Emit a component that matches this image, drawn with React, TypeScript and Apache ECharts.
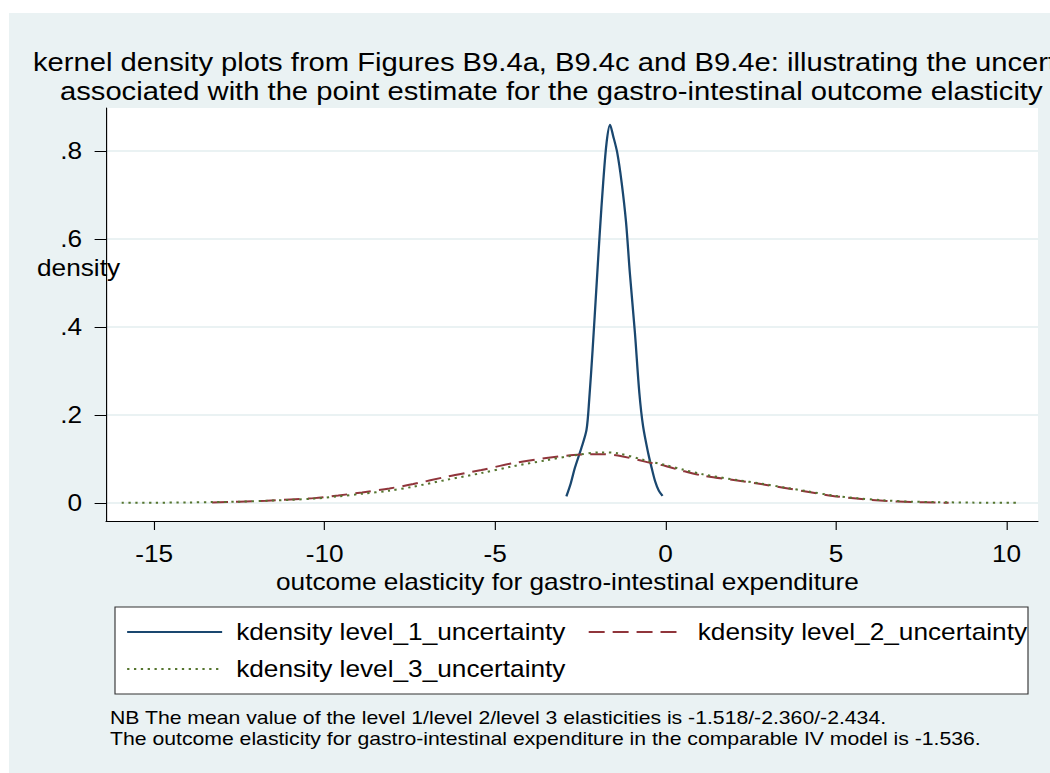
import React, { useEffect, useRef } from "react";
import * as echarts from "echarts";

// The reference picture is stretched horizontally; the chart is drawn at a
// narrower width and stretched by the same factor.
const SX = 1.14;
const W = 1050;
const H = 773;
const CW = W / SX;
const FONT = "'Liberation Sans', Arial, Helvetica, sans-serif";

const titleLines = [
  "kernel density plots from Figures B9.4a, B9.4c and B9.4e: illustrating the uncertainty",
  "associated with the point estimate for the gastro-intestinal outcome elasticity",
];
const xAxisTitle = "outcome elasticity for gastro-intestinal expenditure";
const yAxisTitle = "density";
const noteLines = [
  "NB The mean value of the level 1/level 2/level 3 elasticities is -1.518/-2.360/-2.434.",
  "The outcome elasticity for gastro-intestinal expenditure in the comparable IV model is -1.536.",
];
const legendNames = [
  "kdensity level_1_uncertainty",
  "kdensity level_2_uncertainty",
  "kdensity level_3_uncertainty",
];

const xTicks = [-15, -10, -5, 0, 5, 10];
const xTickLabels = ["-15", "-10", "-5", "0", "5", "10"];
const yTicks = [0, 0.2, 0.4, 0.6, 0.8];
const yTickLabels = ["0", ".2", ".4", ".6", ".8"];

const level1X = [-2.91, -2.78, -2.66, -2.47, -2.32, -2.24, -2.14, -2.02, -1.93, -1.83, -1.73, -1.63, -1.54, -1.42, -1.29, -1.16, -1.05, -0.9, -0.77, -0.66, -0.51, -0.41, -0.31, -0.2, -0.09];
const level1Y = [0.015, 0.045, 0.08, 0.125, 0.166, 0.235, 0.349, 0.501, 0.615, 0.729, 0.82, 0.86, 0.835, 0.797, 0.729, 0.638, 0.524, 0.387, 0.25, 0.174, 0.113, 0.08, 0.05, 0.028, 0.016];

const level2X = [-13.3, -12.5, -11.7, -11.0, -10.3, -9.6, -8.9, -8.1, -7.4, -6.4, -5.4, -4.5, -3.5, -2.7, -1.9, -1.4, -0.6, 0.0, 0.5, 1.1, 2.1, 2.8, 3.5, 4.2, 4.9, 5.6, 6.4, 7.2, 7.9, 8.3];
const level2Y = [0.001, 0.003, 0.005, 0.008, 0.011, 0.017, 0.024, 0.033, 0.043, 0.06, 0.075, 0.09, 0.102, 0.109, 0.111, 0.108, 0.094, 0.084, 0.073, 0.062, 0.051, 0.043, 0.034, 0.025, 0.016, 0.01, 0.005, 0.002, 0.001, 0.0005];

const level3X = [-15.95, -15.0, -14.0, -13.3, -12.5, -11.7, -11.0, -10.3, -9.6, -8.9, -8.1, -7.4, -6.4, -5.4, -4.5, -3.5, -2.7, -1.9, -1.4, -0.6, 0.0, 0.5, 1.1, 2.1, 2.8, 3.5, 4.2, 4.9, 5.6, 6.4, 7.2, 7.9, 9.0, 10.35];
const level3Y = [0.0003, 0.0006, 0.0012, 0.002, 0.003, 0.005, 0.007, 0.01, 0.015, 0.021, 0.028, 0.037, 0.053, 0.068, 0.083, 0.097, 0.108, 0.115, 0.113, 0.097, 0.086, 0.076, 0.065, 0.052, 0.044, 0.035, 0.026, 0.017, 0.011, 0.006, 0.003, 0.002, 0.0008, 0.0003];

const toPairs = (xs: number[], ys: number[]) => xs.map((x, i) => [x, ys[i]]);

export default function App() {
  const ref = useRef<HTMLDivElement>(null);

  useEffect(() => {
    if (!ref.current) return;
    const chart = echarts.init(ref.current, null, { renderer: "svg" });
    const gridLeft = 106 / SX;
    const gridRight = 1038 / SX;
    const legendCommon = {
      left: 126 / SX,
      padding: 0,
      itemGap: 19.3,
      itemWidth: 95 / SX,
      itemHeight: 17,
      itemStyle: { opacity: 0, borderWidth: 0 },
      textStyle: { fontSize: 23, color: "#000", fontFamily: FONT, padding: [0, 0, 0, 7.3] },
    };
    const option: any = {
      animation: false,
      backgroundColor: "transparent",
      textStyle: { fontFamily: FONT, color: "#000" },
      grid: {
        left: gridLeft,
        top: 108,
        width: gridRight - gridLeft,
        height: 413,
        show: true,
        backgroundColor: "#ffffff",
        borderWidth: 0,
        containLabel: false,
        outerBoundsMode: "none",
      },
      xAxis: {
        type: "value",
        min: -16.41,
        max: 10.92,
        axisLine: { show: true, onZero: false, lineStyle: { color: "#000", width: 1 } },
        axisTick: { show: true, customValues: xTicks, length: 9, lineStyle: { color: "#000", width: 1 } },
        axisLabel: {
          customValues: xTicks,
          margin: 22,
          fontSize: 23,
          color: "#000",
          fontFamily: FONT,
          formatter: (v: number) => {
            const i = xTicks.indexOf(v);
            return i >= 0 ? xTickLabels[i] : String(v);
          },
        },
        splitLine: { show: false },
        name: xAxisTitle,
        nameLocation: "middle",
        nameGap: 44,
        nameTextStyle: { fontSize: 23, color: "#000", fontFamily: FONT, padding: [0, 8, 0, 0] },
      },
      yAxis: {
        type: "value",
        min: -0.041,
        max: 0.898,
        axisLine: { show: true, onZero: false, lineStyle: { color: "#000", width: 1 } },
        axisTick: { show: true, customValues: yTicks, length: 10, lineStyle: { color: "#000", width: 1 } },
        axisLabel: {
          customValues: yTicks,
          margin: 21,
          fontSize: 23,
          color: "#000",
          fontFamily: FONT,
          formatter: (v: number) => {
            const i = yTicks.indexOf(v);
            return i >= 0 ? yTickLabels[i] : String(v);
          },
        },
        splitLine: { show: true, lineStyle: { color: "#eaf2f3", width: 2 } },
      },
      legend: [
        { ...legendCommon, top: 620.5, data: [legendNames[0], legendNames[1]] },
        { ...legendCommon, top: 657.5, data: [legendNames[2]] },
      ],
      series: [
        {
          name: legendNames[0],
          type: "line",
          data: toPairs(level1X, level1Y),
          symbol: "none",
          smooth: 0.3,
          lineStyle: { color: "#1a476f", width: 2 },
          itemStyle: { color: "#1a476f" },
        },
        {
          name: legendNames[1],
          type: "line",
          data: toPairs(level2X, level2Y),
          symbol: "none",
          smooth: 0.3,
          lineStyle: { color: "#90353b", width: 2, type: [14, 7] },
          itemStyle: { color: "#90353b" },
        },
        {
          name: legendNames[2],
          type: "line",
          data: toPairs(level3X, level3Y),
          symbol: "none",
          smooth: 0.3,
          lineStyle: { color: "#55752f", width: 2, type: [2, 4] },
          itemStyle: { color: "#55752f" },
        },
      ],
      graphic: [
        {
          type: "rect",
          shape: { x: 115 / SX, y: 607, width: (1028 - 115) / SX, height: 87 },
          style: { fill: "#ffffff", stroke: "#333333", lineWidth: 1 },
          z: 1,
        },
        {
          type: "text",
          x: 33 / SX,
          y: 62,
          style: { text: titleLines[0], fontSize: 25.6, fontFamily: FONT, fill: "#000", textAlign: "left", textVerticalAlign: "middle" },
        },
        {
          type: "text",
          x: 60 / SX,
          y: 91,
          style: { text: titleLines[1], fontSize: 25.6, fontFamily: FONT, fill: "#000", textAlign: "left", textVerticalAlign: "middle" },
        },
        {
          type: "text",
          x: 37 / SX,
          y: 268,
          z: 10,
          style: { text: yAxisTitle, fontSize: 23, fontFamily: FONT, fill: "#000", textAlign: "left", textVerticalAlign: "middle" },
        },
        {
          type: "text",
          x: 110 / SX,
          y: 717,
          style: { text: noteLines[0], fontSize: 18.6, fontFamily: FONT, fill: "#000", textAlign: "left", textVerticalAlign: "middle" },
        },
        {
          type: "text",
          x: 110 / SX,
          y: 738,
          style: { text: noteLines[1], fontSize: 18.6, fontFamily: FONT, fill: "#000", textAlign: "left", textVerticalAlign: "middle" },
        },
      ],
    };
    chart.setOption(option);
    return () => chart.dispose();
  }, []);

  return (
    <div style={{ position: "fixed", left: 0, top: 0, width: W, height: H, background: "#ffffff", overflow: "hidden" }}>
      <div style={{ position: "absolute", left: 9, top: 13, right: 0, bottom: 0, background: "#eaf2f3" }} />
      <div
        ref={ref}
        style={{ position: "absolute", left: 0, top: 0, width: CW, height: H, transform: `scaleX(${SX})`, transformOrigin: "0 0" }}
      />
    </div>
  );
}
